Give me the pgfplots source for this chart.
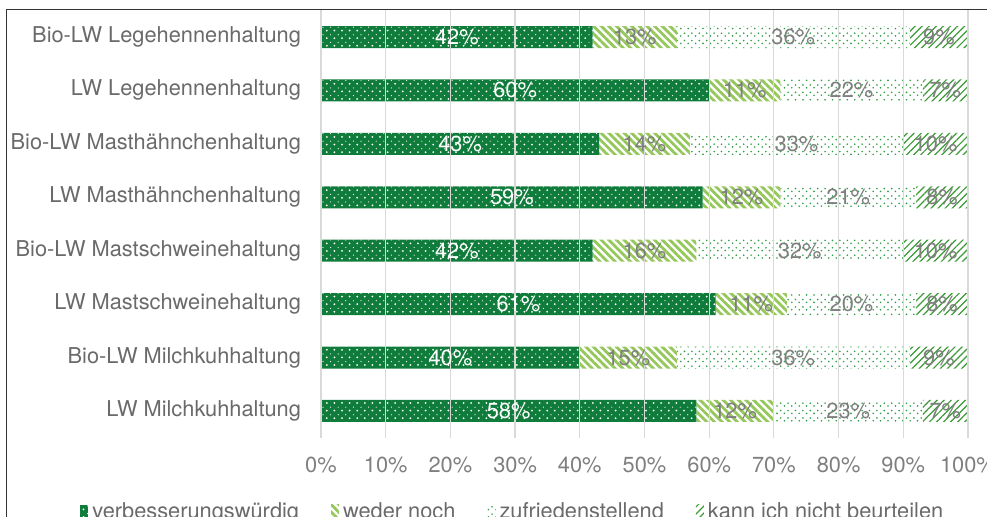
\documentclass[border=0pt]{standalone}
\usepackage{pgfplots}
\pgfplotsset{compat=1.18}
\usepackage{pgfplotstable}
\usetikzlibrary{patterns.meta}
\usepackage{fontspec}
\setmainfont{TeX Gyre Heros}
\definecolor{dkgreen}{HTML}{107C3B}
\definecolor{ltgreen}{HTML}{95C75A}
\definecolor{dotgreen}{HTML}{2E9E44}
\definecolor{strgreen}{HTML}{3A9B35}
\definecolor{lblgray}{HTML}{6A6A6A}
\definecolor{tickgray}{HTML}{7F7F7F}
\definecolor{gridgray}{HTML}{D9D9D9}
\pgfplotstableread{
y a b c d
8 42 13 36 9
7 60 11 22 7
6 43 14 33 10
5 59 12 21 8
4 42 16 32 10
3 61 11 20 8
2 40 15 36 9
1 58 12 23 7
}\data
\begin{document}
\begin{tikzpicture}
\useasboundingbox (0pt,0pt) rectangle (493.5pt,258.5pt);
\clip (0pt,0pt) rectangle (493.5pt,258.5pt);
\draw[line width=0.5pt, black!80] (3pt,253.5pt) rectangle (550pt,-25pt);
\begin{axis}[
  at={(160.5pt,39.65pt)}, anchor=south west,
  width=323.5pt, height=213.7pt, scale only axis,
  axis on top,
  xbar stacked, bar width=11pt,
  xmin=0, xmax=100, ymin=0.5, ymax=8.5,
  xtick={0,10,...,100},
  xticklabel={\pgfmathprintnumber{\tick}\%},
  ytick={1,...,8},
  yticklabels={LW Milchkuhhaltung, Bio-LW Milchkuhhaltung, LW Mastschweinehaltung, Bio-LW Mastschweinehaltung, LW Masthähnchenhaltung, Bio-LW Masthähnchenhaltung, LW Legehennenhaltung, Bio-LW Legehennenhaltung},
  axis line style={draw=none},
  major tick length=0pt,
  xmajorgrids, major grid style={gridgray, line width=0.6pt},
  /pgf/number format/assume math mode=true,
  tick label style={font=\fontsize{10.9}{12}\selectfont},
  xticklabel style={tickgray, yshift=-6pt},
  yticklabel style={lblgray, xshift=-6.5pt},
  visualization depends on=rawx \as \rawx,
  nodes near coords={\pgfmathprintnumber{\rawx}\%},
  every node near coord/.append style={anchor=center, font=\fontsize{10.9}{12}\selectfont, text=tickgray},
  legend columns=4,
  legend image code/.code={\draw[#1, draw=none] (0pt,-3.5pt) rectangle (4pt,3.5pt);},
  legend style={at={(0.298,-0.132)}, anchor=north, draw=none, fill=none, font=\fontsize{10.9}{12}\selectfont, text=lblgray, /tikz/every even column/.append style={column sep=14pt}},
]
\addplot[fill=dkgreen, draw=none,
  postaction={pattern={Dots[distance=3.8pt, radius=0.5pt]}, pattern color=white},
  postaction={pattern={Dots[distance=3.8pt, radius=0.3pt, xshift=1.9pt, yshift=1.7pt]}, pattern color=white},
  every node near coord/.append style={text=white}] table[x=a, y=y] {\data};
\addplot[fill=white, draw=none, postaction={pattern={Lines[angle=-45, distance=2.7pt, line width=1.4pt]}, pattern color=ltgreen}] table[x=b, y=y] {\data};
\addplot[fill=white, draw=none,
  postaction={pattern={Dots[distance=3.7pt, radius=0.45pt]}, pattern color=dotgreen},
  postaction={pattern={Dots[distance=3.7pt, radius=0.45pt, xshift=1.85pt, yshift=1.4pt]}, pattern color=dotgreen}] table[x=c, y=y] {\data};
\addplot[fill=white, draw=none, postaction={pattern={Lines[angle=45, distance=2.5pt, line width=0.6pt]}, pattern color=strgreen}] table[x=d, y=y] {\data};
\legend{verbesserungswürdig, weder noch, zufriedenstellend, kann ich nicht beurteilen}
\end{axis}
\end{tikzpicture}
\end{document}
